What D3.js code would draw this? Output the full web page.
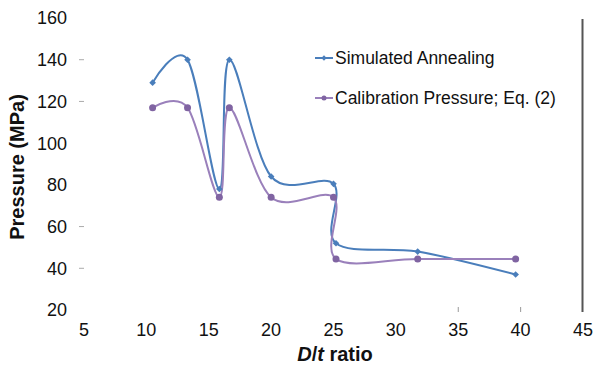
<!DOCTYPE html>
<html>
<head>
<meta charset="utf-8">
<script src="https://cdn.jsdelivr.net/npm/d3@7"></script>
<style>
  body { margin: 0; background: #fff; }
  text { font-family: "Liberation Sans", Arial, sans-serif; fill: #111; }
</style>
</head>
<body>
<script>
// Data
const dtRatio = [10.5, 13.3, 15.85, 16.65, 20, 25, 25.2, 31.75, 39.6];
const simulated = [129, 140, 78, 140, 84, 80.5, 52, 48, 37];
const calibration = [117, 117, 74, 117, 74, 74, 44.5, 44.5, 44.5];
const xTicks = [5, 10, 15, 20, 25, 30, 35, 40, 45];
const yTicks = [20, 40, 60, 80, 100, 120, 140, 160];
const seriesNames = ["Simulated Annealing", "Calibration Pressure; Eq. (2)"];

const width = 595, height = 368;

const svg = d3.select("body")
  .append("svg")
  .attr("width", width)
  .attr("height", height);

// Scales
const x = d3.scaleLinear().domain([5, 45]).range([84, 583]);
const y = d3.scaleLinear().domain([20, 160]).range([310, 18]);

// Y tick labels
svg.append("g")
  .selectAll("text")
  .data(yTicks)
  .enter()
  .append("text")
  .attr("x", 67)
  .attr("y", d => y(d))
  .attr("dy", "0.36em")
  .attr("text-anchor", "end")
  .style("font-size", "18px")
  .text(d => d);

// faint left tick marks (only some visible in the original)
svg.append("g")
  .selectAll("line")
  .data([140, 120, 60, 40])
  .enter()
  .append("line")
  .attr("x1", 79).attr("x2", 84)
  .attr("y1", d => y(d)).attr("y2", d => y(d))
  .attr("stroke", "#aaa");

// X tick labels
svg.append("g")
  .selectAll("text")
  .data(xTicks)
  .enter()
  .append("text")
  .attr("x", d => x(d))
  .attr("y", 336)
  .attr("text-anchor", "middle")
  .style("font-size", "18px")
  .text(d => d);

// small bottom ticks
svg.append("g")
  .selectAll("line")
  .data([35, 40])
  .enter()
  .append("line")
  .attr("x1", d => x(d)).attr("x2", d => x(d))
  .attr("y1", 307).attr("y2", 312)
  .attr("stroke", "#999");

// right frame line
svg.append("line")
  .attr("x1", x(45) - 0.5).attr("x2", x(45) - 0.5)
  .attr("y1", y(160) + 1).attr("y2", 312)
  .attr("stroke", "#555")
  .attr("stroke-width", 2);

// Axis titles
const yMid = (y(20) + y(160)) / 2 + 3;
svg.append("text")
  .attr("transform", "translate(24," + yMid + ") rotate(-90)")
  .attr("text-anchor", "middle")
  .style("font-size", "20px")
  .style("font-weight", "bold")
  .text("Pressure (MPa)");

const xt = svg.append("text")
  .attr("x", 335)
  .attr("y", 361)
  .attr("text-anchor", "middle")
  .style("font-size", "20px")
  .style("font-weight", "bold");
xt.append("tspan").style("font-style", "italic").text("D");
xt.append("tspan").text("/");
xt.append("tspan").style("font-style", "italic").text("t");
xt.append("tspan").text(" ratio");

// Lines
const colors = ["#4a7ebb", "#8064a2"];
const lineColors = ["#4a7ebb", "#9a80bb"];
const allSeries = [simulated, calibration];

const line = d3.line()
  .x((d, i) => x(dtRatio[i]))
  .y(d => y(d))
  .curve(d3.curveCardinal.tension(0));

allSeries.forEach((vals, k) => {
  svg.append("path")
    .datum(vals)
    .attr("fill", "none")
    .attr("stroke", lineColors[k])
    .attr("stroke-width", 2)
    .attr("d", line);
});

// Markers
svg.selectAll(".diamond")
  .data(simulated)
  .enter()
  .append("path")
  .attr("class", "diamond")
  .attr("transform", (d, i) => "translate(" + x(dtRatio[i]) + "," + y(d) + ") rotate(45)")
  .attr("d", d3.symbol(d3.symbolSquare, 22))
  .attr("fill", colors[0]);

svg.selectAll(".dot")
  .data(calibration)
  .enter()
  .append("circle")
  .attr("class", "dot")
  .attr("cx", (d, i) => x(dtRatio[i]))
  .attr("cy", d => y(d))
  .attr("r", 3.5)
  .attr("fill", colors[1]);

// Legend
const legend = svg.append("g");
seriesNames.forEach((name, k) => {
  const ly = 58 + k * 40;
  legend.append("line")
    .attr("x1", 315).attr("x2", 333)
    .attr("y1", ly).attr("y2", ly)
    .attr("stroke", lineColors[k])
    .attr("stroke-width", 2);
  if (k === 0) {
    legend.append("path")
      .attr("transform", "translate(324," + ly + ") rotate(45)")
      .attr("d", d3.symbol(d3.symbolSquare, 14))
      .attr("fill", colors[0]);
  } else {
    legend.append("circle")
      .attr("cx", 324).attr("cy", ly).attr("r", 2.5)
      .attr("fill", colors[1]);
  }
  legend.append("text")
    .attr("x", 335)
    .attr("y", ly)
    .attr("dy", "0.36em")
    .style("font-size", "17.5px")
    .text(name);
});
</script>
</body>
</html>
